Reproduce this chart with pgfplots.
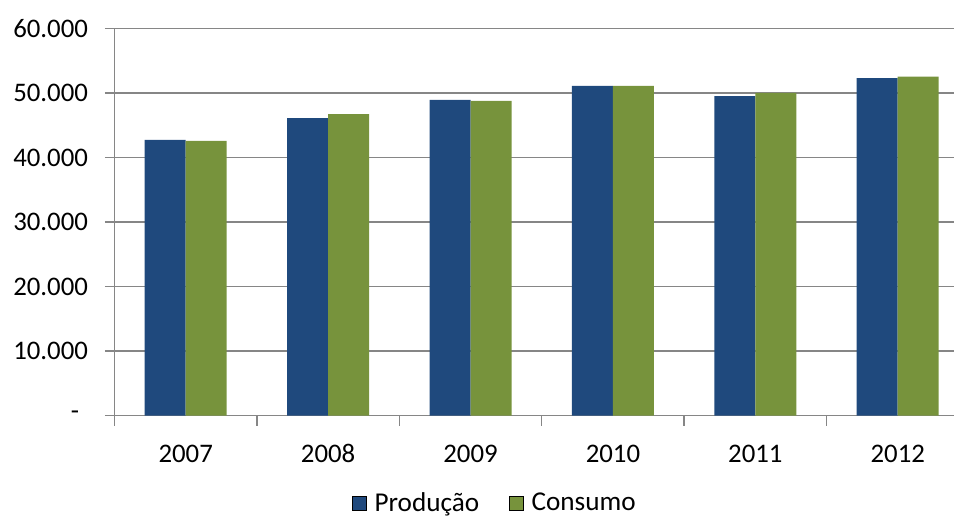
\documentclass[border=0pt]{standalone}
\usepackage{pgfplots}
\pgfplotsset{compat=1.18}
\usepackage{fontspec}
\setmainfont{Carlito}
\definecolor{prodblue}{RGB}{31,73,125}
\definecolor{consgreen}{RGB}{119,147,60}
\definecolor{gridgray}{RGB}{134,134,134}
\begin{document}
\begin{tikzpicture}
\path[use as bounding box] (0,0) rectangle (477pt,258.5pt);
\begin{axis}[
  at={(57.25pt,50.65pt)}, anchor=south west,
  scale only axis, width=419.75pt, height=193.7pt,
  ybar=0pt, bar width=20.5pt,
  xmin=-0.5, xmax=5.395, ymin=0, ymax=60000,
  scaled y ticks=false,
  axis x line*=bottom, axis y line*=left,
  axis line style={gridgray, line width=0.75pt, -},
  xtick={0,1,2,3,4,5},
  xticklabels={2007,2008,2009,2010,2011,2012},
  minor xtick={-0.5,0.5,1.5,2.5,3.5,4.5},
  major x tick style={draw=none},
  ytick={0,10000,20000,30000,40000,50000,60000},
  yticklabels={{\makebox[8.5pt][l]{-}},10.000,20.000,30.000,40.000,50.000,60.000},
  ymajorgrids, grid style={gridgray, line width=0.75pt},
  tick align=outside,
  major tick length=4.75pt, minor tick length=5pt,
  every tick/.style={gridgray, line width=0.75pt},
  tick label style={font=\fontsize{13.4}{15}\selectfont, black},
  x tick label style={text height=9pt, text depth=0pt, anchor=north, yshift=-6pt},
  y tick label style={xshift=-5pt},
  /pgf/number format/assume math mode=true,
  legend style={at={(0.4544,-0.226)}, anchor=center, draw=none,
    font=\fontsize{13.6}{15}\selectfont, legend columns=2,
    /tikz/every even column/.append style={column sep=13pt}},
  legend image code/.code={\draw[#1] (0pt,-3.5pt) rectangle (7pt,3.5pt);
    \path (9pt,0pt);},
]
\addplot[draw=none, fill=prodblue] coordinates {
  (0,42700) (1,46100) (2,48900) (3,51100) (4,49500) (5,52300)};
\addplot[draw=none, fill=consgreen] coordinates {
  (0,42550) (1,46700) (2,48750) (3,51100) (4,50000) (5,52500)};
\legend{Produção, Consumo}
\end{axis}
\end{tikzpicture}
\end{document}
